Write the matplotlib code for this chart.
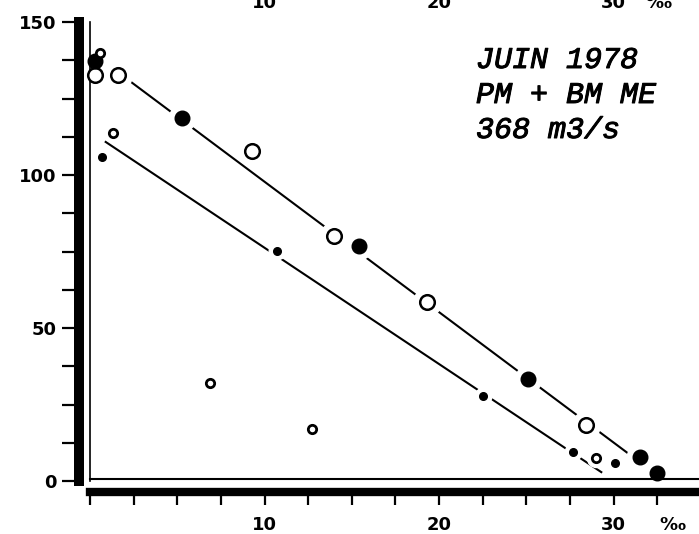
import numpy as np
import matplotlib
matplotlib.use('Agg')
import matplotlib.pyplot as plt
import matplotlib.transforms as mtransforms
import matplotlib.patheffects as pe

# ============================================================
# Salinity (per mille) vs concentration, June 1978
# ============================================================

# large open circles
big_open_x = [0.3, 1.6, 9.3, 14.0, 19.3, 28.4]
big_open_y = [132.7, 132.7, 107.8, 80.0, 58.5, 18.3]

# large filled circles
big_filled_x = [0.3, 5.3, 15.4, 25.1, 31.5, 32.5]
big_filled_y = [137.3, 118.6, 76.8, 33.3, 7.8, 2.6]

# small open circles
small_open_x = [0.6, 1.3, 6.9, 12.7, 29.0]
small_open_y = [139.9, 113.7, 32.0, 17.0, 7.5]

# small filled circles
small_filled_x = [0.7, 10.7, 22.5, 27.7, 30.1]
small_filled_y = [105.9, 75.2, 27.8, 9.5, 5.9]

# fitted dilution lines (end points)
upper_line_x = [1.6, 31.5]
upper_line_y = [133.6, 6.2]
lower_line_x = [0.9, 29.3]
lower_line_y = [110.8, 2.9]

x_ticks = np.arange(0, 35, 2.5)
x_labels = {10: '10', 20: '20', 30: '30'}
y_ticks = np.arange(0, 150.1, 12.5)
y_labels = {0: '0', 50: '50', 100: '100', 150: '150'}

notes = ['JUIN 1978', 'PM + BM ME', '368 m3/s']

# ============================================================
W, H = 699, 534
fig = plt.figure(figsize=(W / 100, H / 100), dpi=100)
ax = fig.add_axes([90 / W, (H - 481) / H, (W - 90) / W, (481 - 22) / H])

ax.set_xlim(0, (W - 90) / 17.45)
ax.set_ylim(0, 150)

# thick outer axis bars
for side in ['top', 'right']:
    ax.spines[side].set_visible(False)
ax.spines['left'].set_position(('outward', 8))
ax.spines['left'].set_linewidth(7.2)
ax.spines['bottom'].set_position(('outward', 8))
ax.spines['bottom'].set_linewidth(6.0)

ax.set_xticks(x_ticks)
ax.set_xticklabels([x_labels.get(int(t), '') if t % 10 == 0 else '' for t in x_ticks])
ax.set_yticks(y_ticks)
ax.set_yticklabels([y_labels.get(int(t), '') if t % 50 == 0 else '' for t in y_ticks])
ax.tick_params(axis='y', direction='out', length=12, width=1.6, pad=4,
               labelsize=13)
ax.tick_params(axis='x', direction='out', length=9, width=1.6, pad=8,
               labelsize=13)
for lab in ax.get_xticklabels() + ax.get_yticklabels():
    lab.set_fontweight('bold')

# thin inner frame
ax.axvline(0, color='black', lw=1.2, clip_on=False, zorder=3)
ax.axhline(0.6, color='black', lw=1.5, clip_on=False, zorder=3)

# dilution lines
ax.plot(upper_line_x, upper_line_y, color='black', lw=1.5, zorder=1)
ax.plot(lower_line_x, lower_line_y, color='black', lw=1.5, zorder=1)

# white halos break the lines around the points
ax.plot(big_open_x, big_open_y, 'o', ms=20, color='white', ls='none', zorder=2)
ax.plot(big_filled_x, big_filled_y, 'o', ms=19, color='white', ls='none', zorder=2)
ax.plot(small_open_x, small_open_y, 'o', ms=13, color='white', ls='none', zorder=2)
ax.plot(small_filled_x, small_filled_y, 'o', ms=12, color='white', ls='none', zorder=2)

ax.plot(big_open_x, big_open_y, 'o', ms=10.5, mfc='white', mec='black',
        mew=1.8, ls='none', zorder=4, clip_on=False)
ax.plot(big_filled_x, big_filled_y, 'o', ms=10.5, color='black',
        ls='none', zorder=4, clip_on=False)
ax.plot(small_open_x, small_open_y, 'o', ms=6, mfc='white', mec='black',
        mew=2.0, ls='none', zorder=4, clip_on=False)
ax.plot(small_filled_x, small_filled_y, 'o', ms=5.5, color='black',
        ls='none', zorder=4, clip_on=False)

# per mille unit next to the x labels
trans = mtransforms.blended_transform_factory(ax.transData, fig.transFigure)
fig.text(33.4, (H - 525) / H, '\u2030', transform=trans, fontsize=13,
         fontweight='bold', ha='center', va='center')

# labels of the panel above, cut by the frame
for xv, s in [(10, '10'), (20, '20'), (30, '30')]:
    fig.text(xv, 1 - 8 / H, s, transform=trans, fontsize=13,
             fontweight='bold', ha='center', va='baseline')
fig.text(32.6, 1 - 8 / H, '\u2030', transform=trans, fontsize=13,
         fontweight='bold', ha='center', va='baseline')

# annotation block
for i, line in enumerate(notes):
    fig.text(476 / W, 1 - (68 + 35 * i) / H, line, family='Liberation Mono',
             style='italic', fontsize=21.6, ha='left', va='baseline',
             path_effects=[pe.withStroke(linewidth=0.7, foreground='black')])

fig.savefig('out.png', dpi=100)
